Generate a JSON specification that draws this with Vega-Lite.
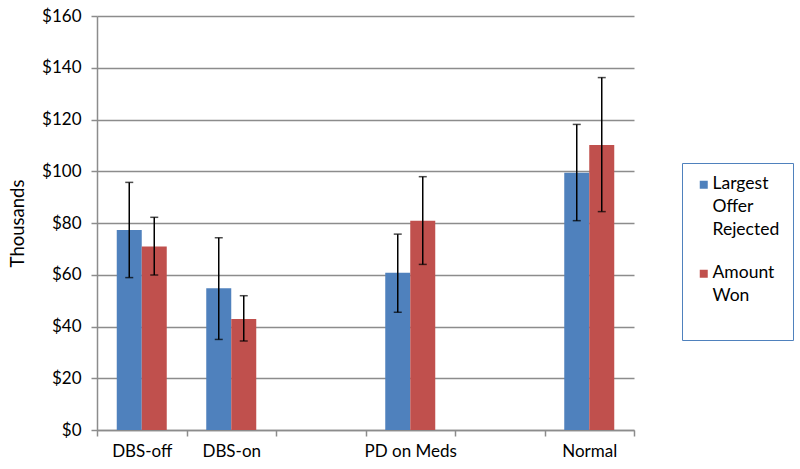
{
  "$schema": "https://vega.github.io/schema/vega-lite/v6.json",
  "width": 537,
  "height": 414,
  "autosize": "none",
  "padding": {"left": 97, "top": 16, "right": 166, "bottom": 39},
  "background": "white",
  "config": {
    "font": "Lato",
    "view": {"stroke": null},
    "axis": {"labelFont": "Lato", "titleFont": "Lato", "labelColor": "#000000", "titleColor": "#000000"}
  },
  "data": {
    "values": [
      {"group": "DBS-off", "series": "Largest Offer Rejected", "value": 77.3, "lo": 58.9, "hi": 95.7},
      {"group": "DBS-off", "series": "Amount Won", "value": 70.9, "lo": 59.9, "hi": 82.2},
      {"group": "DBS-on", "series": "Largest Offer Rejected", "value": 54.8, "lo": 35.0, "hi": 74.3},
      {"group": "DBS-on", "series": "Amount Won", "value": 42.9, "lo": 34.4, "hi": 51.9},
      {"group": "PD on Meds", "series": "Largest Offer Rejected", "value": 60.8, "lo": 45.5, "hi": 75.7},
      {"group": "PD on Meds", "series": "Amount Won", "value": 80.9, "lo": 64.0, "hi": 97.9},
      {"group": "Normal", "series": "Largest Offer Rejected", "value": 99.4, "lo": 80.9, "hi": 118.1},
      {"group": "Normal", "series": "Amount Won", "value": 110.1, "lo": 84.4, "hi": 136.2}
    ]
  },
  "encoding": {
    "x": {
      "field": "group",
      "type": "nominal",
      "scale": {"domain": ["DBS-off", "DBS-on", "gap1", "PD on Meds", "gap2", "Normal"], "paddingInner": 0, "paddingOuter": 0},
      "axis": {
        "title": null,
        "labelAngle": 0,
        "labelExpr": "indexof(datum.label, 'gap') === 0 ? '' : datum.label",
        "tickBand": "extent",
        "domainColor": "#8c8c8c",
        "domainWidth": 1.5,
        "tickColor": "#8c8c8c",
        "tickWidth": 1.5,
        "tickSize": 6,
        "labelFontSize": 17,
        "labelPadding": 7,
        "grid": false
      }
    },
    "xOffset": {
      "field": "series",
      "type": "nominal",
      "sort": ["Largest Offer Rejected", "Amount Won"],
      "scale": {"paddingInner": 0, "paddingOuter": 0.79}
    }
  },
  "layer": [
    {
      "mark": {"type": "bar"},
      "encoding": {
        "y": {
          "field": "value",
          "type": "quantitative",
          "scale": {"domain": [0, 160], "nice": false},
          "axis": {
            "title": "Thousands",
            "titleFontSize": 18.5,
            "titleFontWeight": "normal",
            "titlePadding": 14,
            "values": [0, 20, 40, 60, 80, 100, 120, 140, 160],
            "labelExpr": "'$' + datum.value",
            "labelFontSize": 17,
            "labelPadding": 10,
            "gridColor": "#8c8c8c",
            "gridWidth": 1.5,
            "domainColor": "#8c8c8c",
            "domainWidth": 1.5,
            "tickColor": "#8c8c8c",
            "tickWidth": 1.5,
            "tickSize": 6
          }
        },
        "color": {
          "field": "series",
          "type": "nominal",
          "sort": ["Largest Offer Rejected", "Amount Won"],
          "scale": {"domain": ["Largest Offer Rejected", "Amount Won"], "range": ["#4F81BD", "#C0504D"]},
          "legend": {
            "title": " ",
            "titleOrient": "bottom",
            "titleFontSize": 10,
            "titlePadding": 13,
            "orient": "none",
            "legendX": 585,
            "legendY": 147,
            "direction": "vertical",
            "symbolType": "square",
            "symbolSize": 64,
            "symbolStrokeWidth": 0,
            "labelFontSize": 17.5,
            "labelFont": "Lato",
            "labelColor": "#000000",
            "labelLimit": 200,
            "labelOffset": 0,
            "labelBaseline": "top",
            "labelExpr": "datum.label === 'Amount Won' ? ['Amount', 'Won'] : ['Largest', 'Offer', 'Rejected']",
            "rowPadding": 24,
            "padding": 13,
            "strokeColor": "#4F81BD",
            "fillColor": "white",
            "encode": {"labels": {"update": {"dy": {"value": -10}, "lineHeight": {"value": 23}}}}
          }
        }
      }
    },
    {
      "mark": {"type": "rule", "color": "#000000", "strokeWidth": 1.5},
      "encoding": {
        "y": {"field": "lo", "type": "quantitative"},
        "y2": {"field": "hi"}
      }
    },
    {
      "mark": {"type": "tick", "color": "#000000", "thickness": 1.5, "size": 8},
      "encoding": {"y": {"field": "lo", "type": "quantitative"}}
    },
    {
      "mark": {"type": "tick", "color": "#000000", "thickness": 1.5, "size": 8},
      "encoding": {"y": {"field": "hi", "type": "quantitative"}}
    }
  ]
}
